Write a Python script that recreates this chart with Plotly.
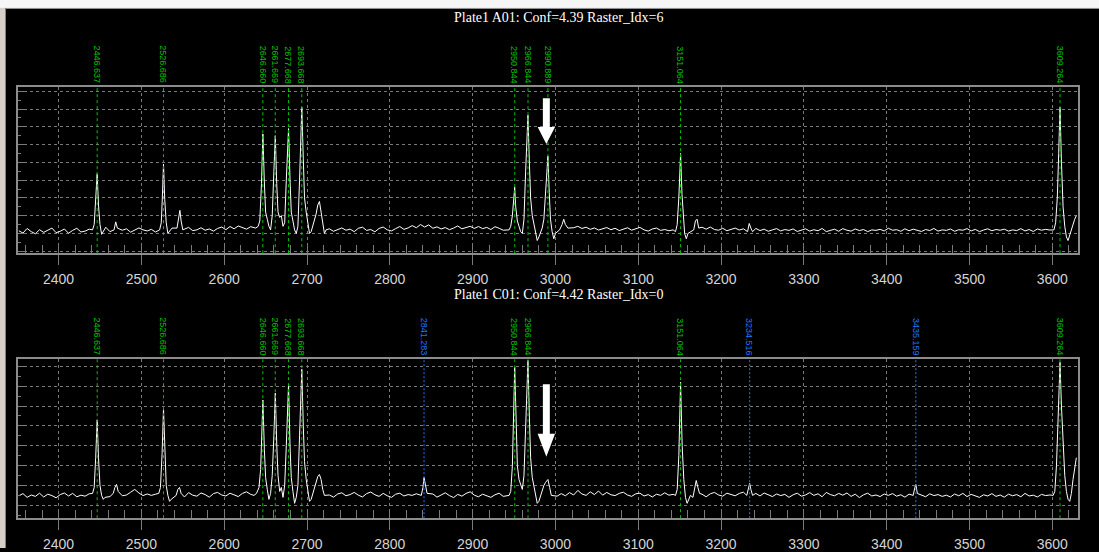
import plotly.graph_objects as go

W, H = 1099, 552

# ---------------- data ----------------
base_x = list(range(2352, 3628, 5))  # baseline sample positions (m/z)

top_base_y = [
    11.5, 10.2, 12.8, 11.0, 9.8, 12.1, 10.6, 11.9, 13.0, 10.4, 11.2, 12.5, 10.1, 11.7, 12.9, 10.8,
    11.3, 12.4, 10.9, 11.6, 12.8, 13.5, 11.0, 12.2, 13.3, 11.8, 12.6, 10.7, 11.9, 13.1, 12.0, 11.4,
    12.3, 10.8, 11.5, 12.9, 11.2, 13.0, 12.4, 11.1, 12.7, 13.4, 11.6, 12.0, 13.2, 11.8, 12.5, 11.3,
    12.8, 13.6, 12.1, 13.9, 12.6, 14.2, 13.3, 12.4, 13.8, 14.5, 13.0, 14.1, 13.0, 13.0, 13.0, 13.0,
    14.0, 14.0, 14.0, 14.0, 14.0, 13.0, 13.0, 13.0, 13.0, 13.0, 12.0, 12.6, 11.2, 12.0, 13.1, 11.8,
    12.4, 11.0, 12.9, 13.5, 11.7, 12.2, 10.9, 12.8, 13.6, 12.0, 11.4, 12.7, 13.9, 12.3, 13.1, 14.4,
    13.2, 15.0, 13.6, 14.8, 12.9, 13.7, 12.5, 13.3, 12.1, 13.0, 14.2, 12.6, 13.5, 14.0, 12.8, 13.9,
    12.7, 13.4, 12.2, 13.8, 12.9, 11.8, 12.5, 12.0, 12.0, 12.0, 12.0, 12.0, 12.0, 12.0, 12.0, 12.0,
    12.0, 12.4, 13.0, 13.0, 13.0, 14.5, 13.2, 14.0, 12.8, 13.5, 12.3, 13.1, 11.9, 12.7, 13.3, 12.1,
    12.9, 11.6, 12.4, 13.2, 11.8, 12.6, 13.4, 12.0, 11.3, 12.5, 13.0, 11.7, 12.2, 11.5, 12.0, 12.0,
    12.0, 12.0, 12.0, 12.0, 12.0, 13.5, 12.4, 13.6, 12.2, 11.8, 12.9, 11.5, 12.3, 13.0, 11.9, 12.6,
    12.0, 12.0, 12.8, 11.6, 12.4, 11.2, 12.0, 12.7, 11.4, 12.2, 11.7, 12.5, 11.1, 11.9, 12.6, 11.3,
    12.1, 11.5, 12.8, 11.0, 11.9, 12.4, 11.2, 12.7, 11.8, 11.3, 12.5, 11.6, 12.2, 11.0, 12.0, 11.7,
    12.3, 11.4, 12.9, 11.8, 12.1, 11.2, 12.6, 11.5, 12.4, 11.9, 11.1, 12.2, 11.6, 12.8, 11.3, 12.0,
    11.7, 12.5, 11.2, 12.1, 11.8, 12.7, 11.4, 12.3, 11.0, 11.9, 12.6, 11.5, 12.2, 11.8, 12.4, 11.3,
    12.0, 11.6, 12.7, 11.4, 12.2, 11.1, 12.5, 11.8, 12.3, 11.9, 12.0, 12.0, 12.0, 12.0, 12.0, 12.0,
]

bot_base_y = [
    -5.2, -4.1, -6.0, -4.8, -5.5, -3.9, -5.8, -4.4, -5.1, -6.2, -4.6, -3.8, -5.3, -4.0, -5.7, -4.9,
    -5.4, -4.2, -5.0, -4.0, -4.0, -4.0, -5.6, -4.5, -3.6, -5.2, -4.8, -3.4, -2.0, -3.8, -5.1, -4.3,
    -5.0, -4.4, -4.0, -4.0, -4.0, -7.0, -5.5, -4.2, -5.8, -3.6, -4.9, -5.4, -3.8, -4.6, -5.9, -4.1,
    -3.5, -4.8, -5.3, -3.9, -4.7, -5.6, -4.0, -3.2, -4.5, -5.1, -4.0, -4.4, -4.0, -4.0, -4.0, -4.0,
    -4.0, -4.0, -4.0, -4.0, -4.0, -4.0, -4.0, -4.0, -4.0, -4.0, -4.0, -4.8, -5.9, -4.3, -3.7, -5.2,
    -4.6, -3.5, -4.9, -5.8, -4.1, -3.3, -4.7, -5.5, -4.0, -5.2, -6.0, -4.4, -3.9, -5.3, -4.6, -5.0,
    -4.2, -4.0, -4.0, -5.6, -4.3, -5.9, -4.8, -3.7, -5.1, -6.1, -4.5, -5.4, -4.0, -3.2, -4.9, -5.7,
    -4.4, -5.2, -6.0, -4.7, -3.9, -5.5, -4.6, -5.0, -5.0, -5.0, -5.0, -5.0, -5.0, -5.0, -5.0, -5.0,
    -5.0, -5.0, -5.4, -4.1, -5.2, -3.6, -4.8, -2.5, -4.3, -5.0, -3.2, -4.6, -2.8, -4.9, -3.5, -4.7,
    -5.1, -4.0, -3.4, -4.8, -5.5, -4.2, -3.9, -5.3, -4.6, -5.8, -4.4, -5.0, -3.7, -4.9, -4.5, -5.0,
    -5.0, -5.0, -5.0, -5.0, -5.0, -4.4, -5.7, -4.2, -3.5, -4.8, -5.4, -3.9, -4.6, -5.2, -4.0, -3.4,
    -4.0, -4.0, -4.0, -5.3, -3.8, -4.9, -5.6, -4.3, -5.1, -4.5, -6.0, -4.7, -3.9, -5.4, -4.8, -3.6,
    -5.0, -4.2, -5.7, -3.5, -4.6, -5.2, -4.0, -4.9, -3.8, -5.5, -4.4, -6.1, -4.7, -3.9, -5.3, -4.8,
    -5.6, -4.3, -5.0, -4.1, -5.4, -4.7, -5.9, -4.4, -4.0, -4.0, -4.8, -5.7, -4.2, -5.1, -4.6, -5.5,
    -4.9, -5.8, -4.3, -5.2, -4.0, -5.6, -4.5, -5.1, -6.0, -4.7, -5.3, -4.1, -5.5, -4.8, -5.9, -4.4,
    -5.2, -4.6, -5.7, -4.0, -5.3, -4.9, -5.8, -4.5, -5.1, -4.8, -5.0, -5.0, -5.0, -5.0, -5.0, -5.0,
]

top_peak_x = [
    2441, 2443, 2444.8, 2446.6, 2448.2, 2450, 2452, 2454,
    2467, 2469, 2471,
    2522, 2524, 2525.3, 2526.7, 2528.2, 2530, 2532, 2534,
    2543, 2545, 2546.5, 2548, 2550,
    2638, 2641, 2643, 2645, 2646.7, 2648.4, 2650, 2652, 2654, 2656,
    2658, 2660, 2661.7, 2663.4, 2665, 2667, 2669, 2671, 2673, 2675,
    2677.7, 2679.5, 2681, 2683, 2685, 2687, 2689, 2691, 2693.7, 2695.5,
    2697, 2699, 2701, 2703, 2705, 2707, 2709, 2711, 2713, 2715,
    2717, 2719, 2721, 2723,
    2944, 2946, 2948, 2949.5, 2950.8, 2952, 2954, 2956, 2958, 2960,
    2962, 2964, 2966.8, 2968.5, 2970, 2972, 2974, 2976, 2978, 2980,
    2982, 2984, 2986, 2988, 2990.9, 2992.5, 2994, 2996, 2998, 3000,
    3005, 3008, 3010, 3012, 3015,
    3145, 3147, 3149, 3151.1, 3152.8, 3154.5, 3156, 3158, 3160,
    3167, 3169, 3171, 3173,
    3232, 3234, 3236, 3238,
    3602, 3604, 3606, 3607.7, 3609.3, 3611, 3613, 3615, 3617, 3619, 3621, 3623, 3625, 3627, 3629,
]
top_peak_y = [
    12, 15, 27, 43.6, 26, 15, 9.5, 11,
    12, 16.5, 13,
    12, 16, 30, 49, 29, 16, 10, 11.5,
    13, 20, 23, 17, 12,
    13, 14, 17, 38, 66, 40, 22, 18, 14, 12,
    20, 45, 65, 38, 22, 19, 20, 14, 16, 40,
    69, 40, 22, 17, 12, 10, 14, 40, 81, 52,
    30, 22, 16, 10, 11, 14, 17, 21, 26, 28,
    22, 15, 10, 12,
    12, 14, 20, 30, 36, 25, 17, 14, 11, 10,
    18, 45, 76.5, 50, 30, 20, 15, 12, 6, 8,
    11, 13, 18, 35, 53.6, 33, 18, 11, 7, 10,
    12, 15, 18, 15, 13,
    11, 15, 30, 55, 32, 17, 10, 7, 10,
    12, 17, 18, 13,
    11, 15.6, 13, 11,
    12, 16, 30, 55, 81, 50, 25, 14, 8, 6, 9, 12, 16, 18, 20,
]

bot_peak_x = [
    2441, 2443, 2444.8, 2446.6, 2448.2, 2450, 2452, 2454, 2456,
    2466, 2468, 2470, 2472,
    2521, 2523, 2525, 2526.7, 2528.3, 2530, 2532, 2534, 2536,
    2542, 2544, 2546, 2548,
    2636, 2639, 2642, 2644, 2646.7, 2648.5, 2650, 2652, 2654, 2656,
    2658, 2660, 2661.7, 2663.5, 2665, 2667, 2669, 2671, 2673, 2675,
    2677.7, 2679.5, 2681, 2683, 2685, 2687, 2689, 2691, 2693.7, 2695.5,
    2697, 2699, 2701, 2703, 2705, 2707, 2709, 2711, 2713, 2715,
    2717, 2719, 2721,
    2838, 2840, 2841.3, 2843, 2845,
    2944, 2946, 2948, 2950.8, 2952.5, 2954, 2956, 2958, 2960, 2962,
    2964, 2966.8, 2968.5, 2970, 2972, 2974, 2976, 2978, 2980, 2982,
    2984, 2986, 2988, 2990.9, 2993, 2995,
    3145, 3147, 3149, 3151.1, 3153, 3155, 3157, 3159, 3161, 3163,
    3166, 3168, 3170, 3172, 3174,
    3231, 3233, 3234.5, 3236, 3238,
    3432, 3434, 3435.2, 3437,
    3601, 3603, 3605, 3607.5, 3609.3, 3611, 3613, 3615, 3617, 3619, 3621, 3623, 3625, 3627, 3629,
]
bot_peak_y = [
    -4, -1, 14, 33, 14, 0, -5, -7, -6,
    -4, -1, 0.5, -3,
    -4, -1, 16, 38.5, 15, 0, -5, -8, -7,
    -5, -2, -1, -4,
    -5, -4, -1, 8, 43, 18, 4, -2, -7, -4,
    5, 25, 46.5, 20, 5, -3, -1, -6, 0, 20,
    51, 20, 4, -3, -9, -6, 0, 25, 58.5, 30,
    12, 3, -3, -8, -7, -4, -1, 2, 4.5, 5.5,
    3, -2, -5,
    -5, -1, 4, 0, -4,
    -5, -3, 10, 59.5, 30, 10, 3, 0, -2, 5,
    30, 63, 35, 14, 4, 0, -5, -9, -8, -5,
    -2, 0, 1.5, 3, -1, -5,
    -5, -2, 15, 52, 20, 3, -6, -9, -7, -5,
    -6, -1, 2.5, -1, -4,
    -5, -1, 1, -2, -5,
    -5, -1, 0.5, -4,
    -5, -3, 10, 40, 62, 40, 18, 5, -3, -7, -8, -4, 3, 10, 14,
]

green_masses_top = [2446.637, 2526.686, 2646.660, 2661.669, 2677.668, 2693.668,
                    2950.844, 2966.844, 2990.889, 3151.064, 3609.264]
green_labels_top = ["2446.637", "2526.686", "2646.660", "2661.669", "2677.668", "2693.668",
                    "2950.844", "2966.844", "2990.889", "3151.064", "3609.264"]
green_masses_bot = [2446.637, 2526.686, 2646.660, 2661.669, 2677.668, 2693.668,
                    2950.844, 2966.844, 3151.064, 3609.264]
green_labels_bot = ["2446.637", "2526.686", "2646.660", "2661.669", "2677.668", "2693.668",
                    "2950.844", "2966.844", "3151.064", "3609.264"]
blue_masses_bot = [2841.283, 3234.516, 3435.159]
blue_labels_bot = ["2841.283", "3234.516", "3435.159"]

title_top = "Plate1 A01: Conf=4.39 Raster_Idx=6"
title_bot = "Plate1 C01: Conf=4.42 Raster_Idx=0"
arrow_mass = 2989
x_tickvals = [2400, 2500, 2600, 2700, 2800, 2900, 3000, 3100, 3200, 3300, 3400, 3500, 3600]


def merge(bx, by, px, py):
    pts = list(zip(px, py))
    for x, y in zip(bx, by):
        if min(abs(x - p) for p in px) >= 2.9:
            pts.append((x, y))
    pts.sort()
    return [p[0] for p in pts], [p[1] for p in pts]


tx, ty = merge(base_x, top_base_y, top_peak_x, top_peak_y)
bx, by = merge(base_x, bot_base_y, bot_peak_x, bot_peak_y)


# ---------------- figure ----------------
def px(v):
    return v / W


def py(v):
    return 1 - v / H


fig = go.Figure()
fig.add_trace(go.Scatter(x=tx, y=ty, mode="lines", line=dict(color="white", width=1),
                         xaxis="x", yaxis="y", showlegend=False, hoverinfo="skip"))
fig.add_trace(go.Scatter(x=bx, y=by, mode="lines", line=dict(color="white", width=1),
                         xaxis="x2", yaxis="y2", showlegend=False, hoverinfo="skip"))

xdom = [px(18), px(1078)]
axcol = "#8c8c8c"
gridcol = "#7a7a7a"
gdash = "3px,3px"


def xaxis_cfg(anchor):
    return dict(domain=xdom, range=[2351, 3631], anchor=anchor, tickvals=x_tickvals,
                ticks="outside", ticklen=10, tickcolor=gridcol, tickwidth=1,
                showgrid=True, gridcolor=gridcol, griddash=gdash, gridwidth=1,
                showline=True, mirror=True, linecolor=axcol, linewidth=2, zeroline=False,
                tickfont=dict(family="Liberation Sans, Arial", size=14, color="#d4d4d4"),
                ticklabelstandoff=2,
                minor=dict(ticks="inside", ticklen=8, dtick=20, tick0=2400,
                           tickcolor=gridcol, tickwidth=1, showgrid=False))


def yaxis_cfg(anchor, dom, rng):
    return dict(domain=dom, range=rng, anchor=anchor, dtick=10, tick0=0,
                showticklabels=False, ticks="inside", ticklen=6, tickcolor=gridcol,
                showgrid=True, gridcolor=gridcol, griddash=gdash, gridwidth=1,
                showline=True, mirror=True, linecolor=axcol, linewidth=2, zeroline=False,
                minor=dict(ticks="inside", ticklen=3, dtick=5, tickcolor=gridcol, showgrid=False))


shapes = []
annotations = []

# window border
shapes.append(dict(type="rect", xref="paper", yref="paper", x0=0, x1=1, y0=py(8), y1=1,
                   fillcolor="#f6f6f6", line=dict(width=0), layer="above"))
shapes.append(dict(type="line", xref="paper", yref="paper", x0=0, x1=1, y0=py(8.5), y1=py(8.5),
                   line=dict(color="#9a9a9a", width=1), layer="above"))
shapes.append(dict(type="rect", xref="paper", yref="paper", x0=0, x1=px(5), y0=0, y1=py(8),
                   fillcolor="#d4d0c8", line=dict(width=0), layer="above"))
shapes.append(dict(type="line", xref="paper", yref="paper", x0=px(5.5), x1=px(5.5), y0=0, y1=py(8),
                   line=dict(color="#808080", width=1), layer="above"))


def add_marks(xref, yref, masses, labels, color, dash, label_top):
    for m, lab in zip(masses, labels):
        shapes.append(dict(type="line", xref=xref, yref=yref + " domain", x0=m, x1=m, y0=0, y1=1,
                           line=dict(color=color, width=1, dash=dash), layer="above"))
        annotations.append(dict(x=m, xref=xref, y=py(label_top), yref="paper", text=lab,
                                textangle=90, showarrow=False, xanchor="center", yanchor="top",
                                font=dict(family="Liberation Sans, Arial", size=9, color=color)))


add_marks("x", "y", green_masses_top, green_labels_top, "#00c000", "3px,3px", 44)
add_marks("x2", "y2", green_masses_bot, green_labels_bot, "#00c000", "3px,3px", 318)
add_marks("x2", "y2", blue_masses_bot, blue_labels_bot, "#1e78ff", "2px,2px", 318)

# titles
for t, yy in [(title_top, 18), (title_bot, 297)]:
    annotations.append(dict(x=px(558), y=py(yy), xref="paper", yref="paper", text=t,
                            showarrow=False, xanchor="center", yanchor="middle",
                            font=dict(family="Liberation Serif, Times New Roman", size=14,
                                      color="white")))


# arrows (white, pointing down to the 2990.889 position)
def arrow_path(c, top, hs, tip):
    s, h = 4.2, 10.5
    return (f"M {c - s},{py(top)} L {c + s},{py(top)} L {c + s},{py(hs)} L {c + h},{py(hs)} "
            f"L {c},{py(tip)} L {c - h},{py(hs)} L {c - s},{py(hs)} Z")


shapes.append(dict(type="path", xref="x", yref="paper", path=arrow_path(arrow_mass, 99, 128, 145),
                   fillcolor="white", line=dict(width=0), layer="above"))
shapes.append(dict(type="path", xref="x2", yref="paper", path=arrow_path(arrow_mass, 387, 437, 460),
                   fillcolor="white", line=dict(width=0), layer="above"))

fig.update_layout(
    width=W, height=H, margin=dict(l=0, r=0, t=0, b=0),
    paper_bgcolor="black", plot_bgcolor="black",
    xaxis=xaxis_cfg("y"),
    yaxis=yaxis_cfg("x", [py(255), py(88)], [-1.1, 92.2]),
    xaxis2=xaxis_cfg("y2"),
    yaxis2=yaxis_cfg("x2", [py(522), py(362)], [-16.5, 63.5]),
    shapes=shapes, annotations=annotations, showlegend=False,
)

fig.write_html("out.html")
